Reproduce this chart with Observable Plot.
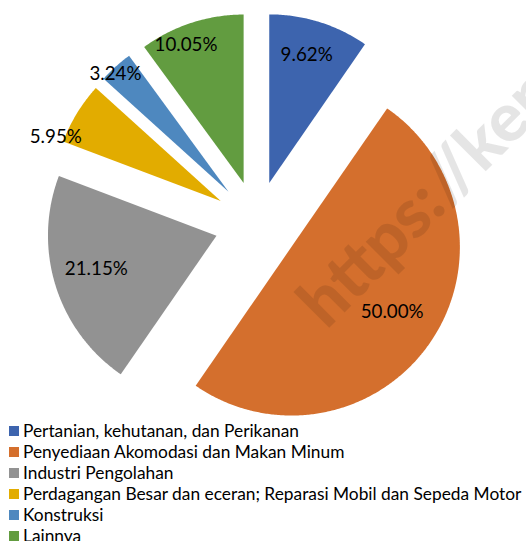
<!DOCTYPE html>
<html>
<head>
<meta charset="utf-8">
<script src="https://cdn.jsdelivr.net/npm/d3@7"></script>
<script src="https://cdn.jsdelivr.net/npm/@observablehq/plot@0.6"></script>
<style>
  html, body { margin: 0; padding: 0; background: #fff; overflow: hidden; }
  #chart svg { display: block; }
  .legend { font-family: Lato, "Open Sans", sans-serif; color: #000; }
  .row { display: flex; align-items: center; height: 21px; white-space: nowrap; }
  .sw { width: 10px; height: 10px; margin-left: 9px; margin-right: 4px; flex: none; }
</style>
</head>
<body>
<div id="chart"></div>
<div id="legend" class="legend"></div>
<script>
// ---- data ----
const categories = [
  "Pertanian, kehutanan, dan Perikanan",
  "Penyediaan Akomodasi dan Makan Minum",
  "Industri Pengolahan",
  "Perdagangan Besar dan eceran; Reparasi Mobil dan Sepeda Motor",
  "Konstruksi",
  "Lainnya"
];
const values = [9.62, 50.00, 21.15, 5.95, 3.24, 10.05];
const valueLabels = ["9.62%", "50.00%", "21.15%", "5.95%", "3.24%", "10.05%"];
const colors = ["#3D64AE", "#D46F2D", "#929292", "#E2AC00", "#4E88BF", "#629C40"];
const watermark = "https://ken";

// ---- layout (not data) ----
const W = 526, H = 420;
const R = 168.5;            // pie radius in px
const CX = 256.2, CY = 222.6; // pie centre in px
const explode = 0.25;       // explosion as fraction of radius
// label placement: [radius fraction from slice vertex, angle offset in degrees]
const labelPlace = [[0.79, -1], [0.71, -2], [0.74, 1.8], [1.05, -10.3], [0.97, -1.75], [0.89, -4.5]];

// font sizes fitted to reference widths
const ctx = document.createElement("canvas").getContext("2d");
function fit(text, target, weight = "normal") {
  ctx.font = `${weight} 100px Lato`;
  return 100 * target / ctx.measureText(text).width;
}
const legendFont = fit(categories[3], 499);
const labelFont = fit("50.00%", 63);

// ---- geometry from data via d3.pie ----
const arcs = d3.pie().sort(null).value(d => d)(values);
const pts = [];
const lbl = [];
arcs.forEach((a, i) => {
  const mid = (a.startAngle + a.endAngle) / 2;
  const ox = explode * Math.sin(mid), oy = explode * Math.cos(mid);
  pts.push({cat: categories[i], x: ox, y: oy});
  const n = Math.max(2, Math.ceil((a.endAngle - a.startAngle) / (Math.PI / 360)));
  for (let k = 0; k <= n; k++) {
    const t = a.startAngle + (a.endAngle - a.startAngle) * k / n;
    pts.push({cat: categories[i], x: ox + Math.sin(t), y: oy + Math.cos(t)});
  }
  pts.push({cat: categories[i], x: ox, y: oy});
  const [f, da] = labelPlace[i];
  const la = mid + da * Math.PI / 180;
  lbl.push({text: valueLabels[i], x: ox + f * Math.sin(la), y: oy + f * Math.cos(la)});
});

const plot = Plot.plot({
  width: W,
  height: H,
  margin: 0,
  style: {fontFamily: "Lato, sans-serif", background: "white", overflow: "hidden"},
  x: {domain: [-CX / R, (W - CX) / R], range: [0, W], axis: null},
  y: {domain: [-(H - CY) / R, CY / R], range: [H, 0], axis: null},
  color: {domain: categories, range: colors},
  marks: [
    Plot.line(pts, {x: "x", y: "y", z: "cat", fill: "cat", stroke: null, curve: "linear"}),
    Plot.text([watermark], {frameAnchor: "top-left", dx: 326, dy: 330, rotate: -45,
      textAnchor: "start", lineAnchor: "bottom", fontSize: 68, fontWeight: 900,
      fill: "black", fillOpacity: 0.1, text: d => d}),
    Plot.text(lbl, {x: "x", y: "y", text: "text", fontSize: labelFont, fill: "black"})
  ]
});
document.getElementById("chart").appendChild(plot);

const leg = document.getElementById("legend");
leg.style.fontSize = legendFont + "px";
categories.forEach((c, i) => {
  const row = document.createElement("div");
  row.className = "row";
  const sw = document.createElement("span");
  sw.className = "sw";
  sw.style.background = colors[i];
  const tx = document.createElement("span");
  tx.textContent = c;
  row.appendChild(sw);
  row.appendChild(tx);
  leg.appendChild(row);
});
</script>
</body>
</html>
